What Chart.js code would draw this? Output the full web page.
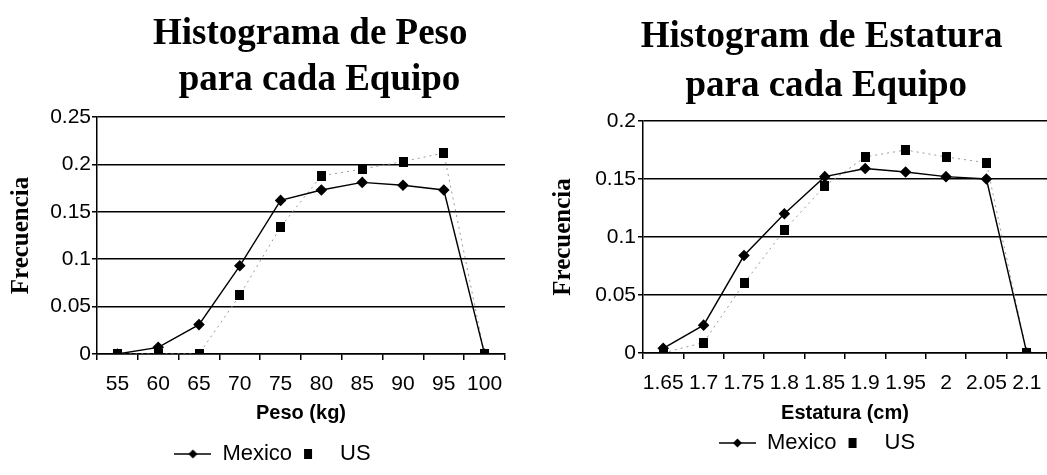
<!DOCTYPE html>
<html>
<head>
<meta charset="utf-8">
<script src="https://cdn.jsdelivr.net/npm/chart.js@4.4.0/dist/chart.umd.min.js"></script>
<style>
html, body { margin: 0; padding: 0; background: #fff; overflow: hidden; width: 1047px; height: 475px; }
.box { position: absolute; top: 0; }
#pesoBox { left: 0; }
#estBox { left: 530px; }
</style>
</head>
<body>
<div class="box" id="pesoBox"><canvas id="pesoChart" width="545" height="475"></canvas></div>
<div class="box" id="estBox"><canvas id="estChart" width="574" height="475"></canvas></div>
<script>
// Datos: histograma de peso
const pesoLabels = ['55', '60', '65', '70', '75', '80', '85', '90', '95', '100'];
const pesoMexico = [0, 0.007, 0.031, 0.093, 0.162, 0.173, 0.181, 0.178, 0.173, 0];
const pesoUS = [0, 0, 0, 0.062, 0.134, 0.188, 0.195, 0.203, 0.212, 0];
const pesoYTicks = ['0', '0.05', '0.1', '0.15', '0.2', '0.25'];

// Datos: histograma de estatura
const estLabels = ['1.65', '1.7', '1.75', '1.8', '1.85', '1.9', '1.95', '2', '2.05', '2.1'];
const estMexico = [0.004, 0.024, 0.084, 0.12, 0.152, 0.159, 0.156, 0.152, 0.15, 0];
const estUS = [0, 0.009, 0.06, 0.106, 0.144, 0.169, 0.175, 0.169, 0.164, 0];
const estYTicks = ['0', '0.05', '0.1', '0.15', '0.2'];

const seriesNames = ['Mexico', 'US'];

Chart.defaults.color = '#000';
Chart.defaults.font.family = "'Liberation Sans', Arial, sans-serif";

// Iconos para los puntos y la leyenda
function makeIcon(w, h, draw) {
    const c = document.createElement('canvas');
    c.width = w;
    c.height = h;
    draw(c.getContext('2d'));
    return c;
}
const usSquare = makeIcon(9, 10, g => { g.fillStyle = '#000'; g.fillRect(0, 0, 9, 10); });
const mexicoKey = makeIcon(37, 12, g => {
    g.strokeStyle = '#000';
    g.lineWidth = 1.5;
    g.beginPath(); g.moveTo(0, 6); g.lineTo(37, 6); g.stroke();
    g.fillStyle = '#000';
    g.beginPath(); g.moveTo(18.5, 1.5); g.lineTo(23, 6); g.lineTo(18.5, 10.5); g.lineTo(14, 6); g.closePath(); g.fill();
});
const usKey = makeIcon(37, 12, g => { g.fillStyle = '#000'; g.fillRect(12, 1, 8, 10); });
const legendIcons = [mexicoKey, usKey];

function buildChart(id, o) {
    const ctx = document.getElementById(id).getContext('2d');
    return new Chart(ctx, {
        type: 'line',
        data: {
            labels: o.labels,
            datasets: [{
                label: seriesNames[0],
                data: o.mexico,
                borderColor: '#000',
                borderWidth: 1.4,
                pointStyle: 'rectRot',
                pointRadius: 4.8,
                pointBackgroundColor: '#000',
                pointBorderColor: '#000',
                tension: 0
            }, {
                label: seriesNames[1],
                data: o.us,
                borderColor: '#9a9a9a',
                borderWidth: 1,
                borderDash: [2, 4],
                pointStyle: usSquare,
                pointRadius: 5,
                tension: 0
            }]
        },
        options: {
            responsive: false,
            animation: false,
            layout: { padding: { left: 0, right: 0, top: 0, bottom: o.bottomPad } },
            plugins: {
                title: {
                    display: true,
                    text: o.title,
                    fullSize: o.titleFull,
                    font: { family: "'Liberation Serif', 'Times New Roman', serif", size: 37, weight: 'bold', lineHeight: o.titleLH },
                    padding: { top: o.titleTop, bottom: o.titleBottom },
                    color: '#000'
                },
                legend: {
                    position: 'bottom',
                    labels: {
                        usePointStyle: true,
                        pointStyleWidth: 37,
                        padding: 0,
                        font: { size: 22 },
                        color: '#000',
                        generateLabels: chart => chart.data.datasets.map((ds, i) => ({
                            text: ds.label,
                            pointStyle: legendIcons[i],
                            fillStyle: '#000',
                            strokeStyle: '#000',
                            lineWidth: 0,
                            hidden: false,
                            datasetIndex: i
                        }))
                    }
                },
                tooltip: { enabled: false }
            },
            scales: {
                x: {
                    offset: true,
                    grid: { display: true, drawOnChartArea: false, drawTicks: true, tickLength: 6, color: '#000', lineWidth: 1.5, offset: true },
                    border: { display: true, color: '#000', width: 1.5 },
                    ticks: { autoSkip: false, maxRotation: 0, minRotation: 0, padding: 12, font: { size: 21 }, color: '#000' },
                    title: { display: true, text: o.xTitle, font: { size: 20, weight: 'bold' }, padding: { top: 0, bottom: o.xTitlePad }, color: '#000' },
                    afterFit: s => { s.height = o.xHeight; }
                },
                y: {
                    min: 0,
                    max: o.yMax,
                    ticks: { stepSize: 0.05, padding: o.yTickPad, font: { size: 21 }, color: '#000', callback: (v, i) => o.yTicks[i] },
                    grid: { color: '#000', lineWidth: 1.5, tickLength: 5 },
                    border: { display: true, color: '#000', width: 1.5 },
                    title: { display: true, text: 'Frecuencia', font: { family: "'Liberation Serif', 'Times New Roman', serif", size: 25, weight: 'bold' }, padding: { top: o.yTitlePad, bottom: 0 }, color: '#000' },
                    afterFit: s => { s.width = o.yWidth; }
                },
                pad: {
                    type: 'linear',
                    position: 'right',
                    display: true,
                    grid: { display: false },
                    ticks: { display: false },
                    border: { display: false },
                    afterFit: s => { s.width = o.rightPad; }
                }
            }
        }
    });
}

buildChart('pesoChart', {
    labels: pesoLabels, mexico: pesoMexico, us: pesoUS, yTicks: pesoYTicks, yMax: 0.25,
    title: ['  Histograma de Peso', '    para cada Equipo'], titleFull: false, titleLH: 1.243, titleTop: 11, titleBottom: 14,
    xTitle: 'Peso (kg)', xTitlePad: 18, xHeight: 89, bottomPad: 0,
    yWidth: 97, yTickPad: 1, yTitlePad: 7, rightPad: 40
});

buildChart('estChart', {
    labels: estLabels, mexico: estMexico, us: estUS, yTicks: estYTicks, yMax: 0.2,
    title: [' Histogram de Estatura', '  para cada Equipo'], titleFull: true, titleLH: 1.324, titleTop: 13, titleBottom: 10,
    xTitle: 'Estatura (cm)', xTitlePad: 7, xHeight: 79, bottomPad: 11,
    yWidth: 113, yTickPad: 2, yTitlePad: 19, rightPad: 57
});
</script>
</body>
</html>
